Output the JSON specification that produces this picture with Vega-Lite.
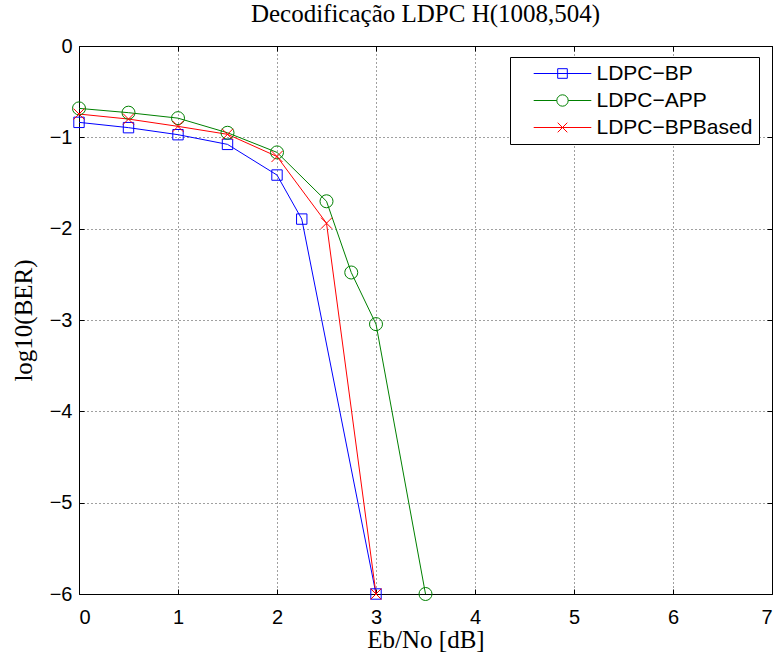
{
  "$schema": "https://vega.github.io/schema/vega-lite/v6.json",
  "width": 693,
  "height": 548,
  "autosize": "none",
  "padding": {"left": 79, "top": 46, "right": 1, "bottom": 59},
  "background": "white",
  "title": {
    "text": "Decodificação LDPC H(1008,504)",
    "font": "Liberation Serif",
    "fontSize": 25,
    "fontWeight": "normal",
    "color": "black",
    "anchor": "middle",
    "offset": 9
  },
  "config": {
    "view": {"stroke": "black", "strokeWidth": 1},
    "axis": {
      "labelFont": "Liberation Sans",
      "labelFontSize": 20,
      "labelColor": "black",
      "titleFont": "Liberation Serif",
      "titleFontSize": 25,
      "titleFontWeight": "normal",
      "titleColor": "black",
      "domain": false,
      "gridColor": "black",
      "gridDash": [1, 3],
      "gridOpacity": 0.75,
      "tickColor": "black",
      "tickSize": -5
    }
  },
  "data": {
    "values": [
      {"series": "LDPC−BP", "x": 0, "y": -0.836},
      {"series": "LDPC−BP", "x": 0.5, "y": -0.894},
      {"series": "LDPC−BP", "x": 1, "y": -0.971},
      {"series": "LDPC−BP", "x": 1.5, "y": -1.077},
      {"series": "LDPC−BP", "x": 2, "y": -1.413},
      {"series": "LDPC−BP", "x": 2.25, "y": -1.895},
      {"series": "LDPC−BP", "x": 3, "y": -6},
      {"series": "LDPC−APP", "x": 0, "y": -0.683},
      {"series": "LDPC−APP", "x": 0.5, "y": -0.73},
      {"series": "LDPC−APP", "x": 1, "y": -0.79},
      {"series": "LDPC−APP", "x": 1.5, "y": -0.95},
      {"series": "LDPC−APP", "x": 2, "y": -1.165},
      {"series": "LDPC−APP", "x": 2.5, "y": -1.70},
      {"series": "LDPC−APP", "x": 2.75, "y": -2.48},
      {"series": "LDPC−APP", "x": 3, "y": -3.045},
      {"series": "LDPC−APP", "x": 3.5, "y": -6},
      {"series": "LDPC−BPBased", "x": 0, "y": -0.745},
      {"series": "LDPC−BPBased", "x": 0.5, "y": -0.80},
      {"series": "LDPC−BPBased", "x": 1, "y": -0.88},
      {"series": "LDPC−BPBased", "x": 1.5, "y": -0.967},
      {"series": "LDPC−BPBased", "x": 2, "y": -1.21},
      {"series": "LDPC−BPBased", "x": 2.5, "y": -1.94},
      {"series": "LDPC−BPBased", "x": 3, "y": -6}
    ]
  },
  "resolve": {"axis": {"x": "independent", "y": "independent"}},
  "layer": [
    {
      "mark": {"type": "line", "strokeWidth": 1},
      "encoding": {
        "x": {
          "field": "x", "type": "quantitative",
          "scale": {"domain": [0, 7], "nice": false, "zero": false},
          "axis": {"title": "Eb/No [dB]", "values": [0,1,2,3,4,5,6,7], "format": "d", "grid": true, "labelPadding": 18, "titlePadding": 0}
        },
        "y": {
          "field": "y", "type": "quantitative",
          "scale": {"domain": [-6, 0], "nice": false},
          "axis": {"title": "log10(BER)", "values": [-6,-5,-4,-3,-2,-1,0], "format": "d", "grid": true, "labelPadding": 12, "titlePadding": 13}
        },
        "color": {
          "field": "series", "type": "nominal",
          "scale": {"domain": ["LDPC−BP", "LDPC−APP", "LDPC−BPBased"], "range": ["#0000ff", "#008000", "#ff0000"]}
        }
      }
    },
    {
      "transform": [{"filter": "datum.series === 'LDPC−BP'"}],
      "mark": {"type": "point", "filled": false, "size": 169, "strokeWidth": 1, "opacity": 1, "shape": "M-0.8,-0.8H0.8V0.8H-0.8Z"},
      "encoding": {
        "x": {"field": "x", "type": "quantitative", "axis": null},
        "y": {"field": "y", "type": "quantitative", "axis": null},
        "color": {"field": "series", "type": "nominal"}
      }
    },
    {
      "transform": [{"filter": "datum.series === 'LDPC−APP'"}],
      "mark": {"type": "point", "filled": false, "size": 169, "strokeWidth": 1, "opacity": 1, "shape": "circle"},
      "encoding": {
        "x": {"field": "x", "type": "quantitative", "axis": null},
        "y": {"field": "y", "type": "quantitative", "axis": null},
        "color": {"field": "series", "type": "nominal"}
      }
    },
    {
      "transform": [{"filter": "datum.series === 'LDPC−BPBased'"}],
      "mark": {"type": "point", "filled": false, "size": 169, "strokeWidth": 1, "opacity": 1, "shape": "M-0.85,-0.85L0.85,0.85M-0.85,0.85L0.85,-0.85"},
      "encoding": {
        "x": {"field": "x", "type": "quantitative", "axis": null},
        "y": {"field": "y", "type": "quantitative", "axis": null},
        "color": {"field": "series", "type": "nominal"}
      }
    },
    {
      "transform": [{"filter": "datum.x > 100"}],
      "mark": {"type": "point", "filled": false, "size": 144, "strokeWidth": 1, "opacity": 1},
      "encoding": {
        "x": {"field": "x", "type": "quantitative", "axis": {"orient": "top", "values": [0,1,2,3,4,5,6,7], "labels": false, "title": null, "grid": false}},
        "y": {"field": "y", "type": "quantitative", "axis": {"orient": "right", "values": [-6,-5,-4,-3,-2,-1,0], "labels": false, "title": null, "grid": false}},
        "color": {"field": "series", "type": "nominal", "legend": {
            "title": null,
            "orient": "none",
            "legendX": 431,
            "legendY": 11,
            "direction": "vertical",
            "strokeColor": "black",
            "fillColor": "white",
            "padding": 6,
            "labelFont": "Liberation Sans",
            "labelFontSize": 21,
            "labelColor": "black",
            "labelOffset": 23.5,
            "rowPadding": 5,
            "symbolSize": 144,
            "symbolOffset": 36,
            "symbolStrokeWidth": 1,
            "symbolFillColor": "transparent"
        }},
        "shape": {
          "field": "series", "type": "nominal",
          "scale": {"domain": ["LDPC−BP", "LDPC−APP", "LDPC−BPBased"], "range": ["M-4.8,0H4.8M-0.8,-0.8H0.8V0.8H-0.8Z", "M-4.8,0H-0.95M0.95,0H4.8M-0.95,0A0.95,0.95,0,1,1,0.95,0A0.95,0.95,0,1,1,-0.95,0Z", "M-4.8,0H4.8M-0.8,-0.8L0.8,0.8M-0.8,0.8L0.8,-0.8"]},
          "legend": {
            "title": null,
            "orient": "none",
            "legendX": 431,
            "legendY": 11,
            "direction": "vertical",
            "strokeColor": "black",
            "fillColor": "white",
            "padding": 6,
            "labelFont": "Liberation Sans",
            "labelFontSize": 21,
            "labelColor": "black",
            "labelOffset": 23.5,
            "rowPadding": 5,
            "symbolSize": 144,
            "symbolOffset": 36,
            "symbolStrokeWidth": 1,
            "symbolFillColor": "transparent"
          }
        }
      }
    }
  ]
}
